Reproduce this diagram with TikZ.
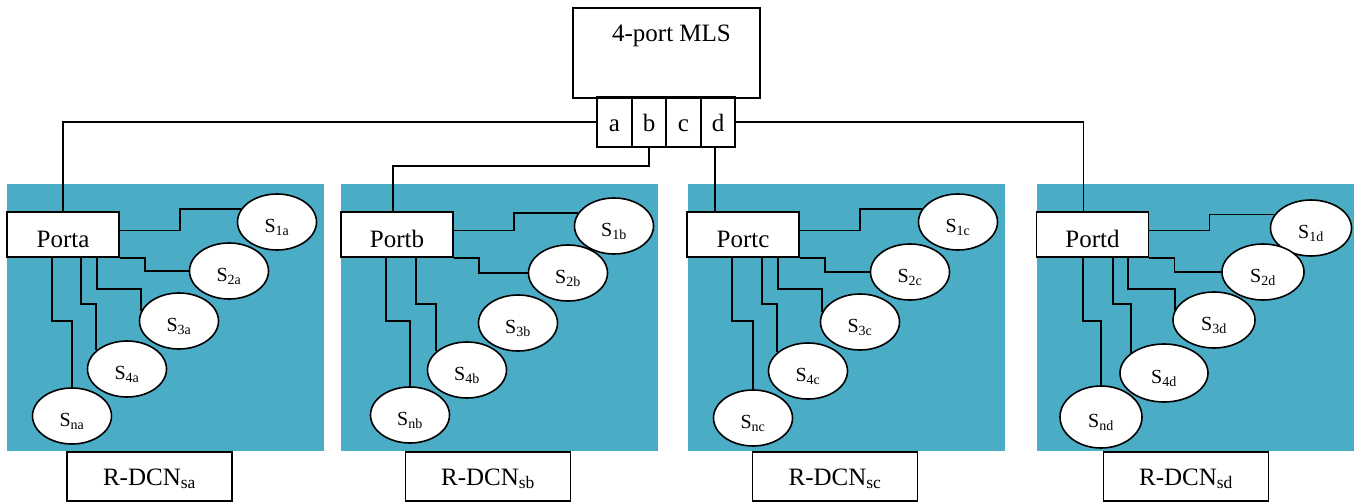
\documentclass[tikz,border=0pt]{standalone}
\usepackage{fontspec}
\setmainfont{Liberation Serif}
\usetikzlibrary{shapes.geometric, positioning}
\definecolor{dcnteal}{RGB}{75,172,198}
\newcommand{\srv}[1]{S\textsubscript{#1}}

\begin{document}
\begin{tikzpicture}[
    x=1pt, y=-1pt,
    on grid,
    line width=1.6pt,
    mls/.style={draw, anchor=north, minimum width=187pt, inner ysep=0pt, text height=34pt, text depth=56pt, font=\fontsize{25}{30}\selectfont},
    cell/.style={draw, minimum width=34.5pt, minimum height=50pt, inner sep=0pt, text height=18pt, text depth=0pt, font=\fontsize{25}{30}\selectfont},
    panel/.style={fill=dcnteal, anchor=north west, minimum width=317pt, minimum height=267pt, inner sep=0pt},
    port/.style={draw, fill=white, minimum width=112pt, minimum height=45pt, inner sep=0pt, text height=25pt, text depth=0pt, font=\fontsize{25}{30}\selectfont},
    server/.style={ellipse, draw, fill=white, minimum width=79pt, minimum height=56pt, inner sep=0pt, text height=20pt, text depth=0pt, font=\fontsize{20}{22}\selectfont},
    rdcn/.style={draw, minimum width=165pt, minimum height=49pt, inner sep=0pt, text height=17pt, text depth=0pt, font=\fontsize{25}{30}\selectfont}
]
   \useasboundingbox (0,0) rectangle (1358,503);

   % Switch and its ports
   \node[mls] (mls) at (666.5,7) {\hspace{10pt}4-port MLS};
   \node[cell] (pa) at (614.5,122) {a};
   \node[cell] (pb) [right=34.5pt of pa] {b};
   \node[cell] (pc) [right=34.5pt of pb] {c};
   \node[cell] (pd) [right=34.5pt of pc] {d};

   % Backgrounds of the four R-DCNs
   \node[panel] (pnla) at (6,183) {};
   \node[panel] (pnlb) at (340,183) {};
   \node[panel] (pnlc) at (687,183) {};
   \node[panel] (pnld) at (1036,183) {};

   % R-DCN a
   \node[port] (porta) at (63,234.5) {Porta};
   \node[server] (s1a) at (277,222) {\srv{1a}};
   \node[server] (s2a) [below left=49pt and 48pt of s1a] {\srv{2a}};
   \node[server] (s3a) [below left=50pt and 50pt of s2a] {\srv{3a}};
   \node[server] (s4a) [below left=48pt and 52pt of s3a] {\srv{4a}};
   \node[server] (sna) [below left=47pt and 55pt of s4a] {\srv{na}};
   \node[rdcn] (rdcna) at (149.5,476.5) {R-DCN\textsubscript{sa}};

   \draw ([yshift=4pt]porta.east) -- ++(60,0) |- (s1a.160);
   \draw (porta.south east) -- ++(25,0) |- (s2a.west);
   \draw ([xshift=91pt]porta.south west) -- ++(0,31) -| (s3a.165);
   \draw ([xshift=75pt]porta.south west) -- ++(0,46) -| (s4a.149);
   \draw ([xshift=46pt]porta.south west) -- ++(0,63) -| (sna.north);

   % R-DCN b (no link to S3b)
   \node[port] (portb) at (397,234.5) {Portb};
   \node[server] (s1b) at (614,226) {\srv{1b}};
   \node[server] (s2b) [below left=47pt and 46pt of s1b] {\srv{2b}};
   \node[server] (s3b) [below left=50pt and 50pt of s2b] {\srv{3b}};
   \node[server] (s4b) [below left=47pt and 51pt of s3b] {\srv{4b}};
   \node[server] (snb) [below left=45pt and 57pt of s4b] {\srv{nb}};
   \node[rdcn] (rdcnb) at (488,476.5) {R-DCN\textsubscript{sb}};

   \draw ([yshift=4pt]portb.east) -- ++(60,0) |- (s1b.160);
   \draw (portb.south east) -- ++(25,0) |- (s2b.west);
   \draw ([xshift=76pt]portb.south west) -- ++(0,46) -| (s4b.149);
   \draw ([xshift=46pt]portb.south west) -- ++(0,63) -| (snb.north);

   % R-DCN c
   \node[port] (portc) at (743,234.5) {Portc};
   \node[server] (s1c) at (958,222) {\srv{1c}};
   \node[server] (s2c) [below left=50pt and 48pt of s1c] {\srv{2c}};
   \node[server] (s3c) [below left=50pt and 50pt of s2c] {\srv{3c}};
   \node[server] (s4c) [below left=49pt and 52pt of s3c] {\srv{4c}};
   \node[server] (snc) [below left=47pt and 55pt of s4c] {\srv{nc}};
   \node[rdcn] (rdcnc) at (835,476.5) {R-DCN\textsubscript{sc}};

   \draw ([yshift=4pt]portc.east) -- ++(60,0) |- (s1c.160);
   \draw (portc.south east) -- ++(25,0) |- (s2c.west);
   \draw ([xshift=92pt]portc.south west) -- ++(0,31) -| (s3c.165);
   \draw ([xshift=76pt]portc.south west) -- ++(0,46) -| (s4c.149);
   \draw ([xshift=46pt]portc.south west) -- ++(0,63) -| (snc.north);

   % R-DCN d (slightly larger servers)
   \node[port] (portd) at (1092.5,234.5) {Portd};
   \node[server, minimum width=81pt] (s1d) at (1311,228) {\srv{1d}};
   \node[server, minimum width=82pt] (s2d) [below left=44pt and 48pt of s1d] {\srv{2d}};
   \node[server, minimum width=82pt] (s3d) [below left=48pt and 49pt of s2d] {\srv{3d}};
   \node[server, minimum width=88pt, minimum height=58pt] (s4d) [below left=53pt and 50pt of s3d] {\srv{4d}};
   \node[server, minimum width=82pt, minimum height=62pt] (snd) [below left=44pt and 63pt of s4d] {\srv{nd}};
   \node[rdcn] (rdcnd) at (1186,476.5) {R-DCN\textsubscript{sd}};

   \draw ([yshift=4pt]portd.east) -- ++(60,0) |- (s1d.160);
   \draw (portd.south east) -- ++(25,0) |- (s2d.west);
   \draw ([xshift=92pt]portd.south west) -- ++(0,31) -| (s3d.165);
   \draw ([xshift=77pt]portd.south west) -- ++(0,46) -| (s4d.149);
   \draw ([xshift=47pt]portd.south west) -- ++(0,63) -| (snd.north);

   % Uplinks to the switch
   \draw (pa.west) -| (porta.north);
   \draw (pb.south) -- ++(0,18) -| ([xshift=-4pt]portb.north);
   \draw ([xshift=-3pt]pd.south) -- ([xshift=-3pt]pd.south |- portc.north);
   \draw (pd.east) -| ([xshift=-9pt]portd.north);

\end{tikzpicture}
\end{document}
